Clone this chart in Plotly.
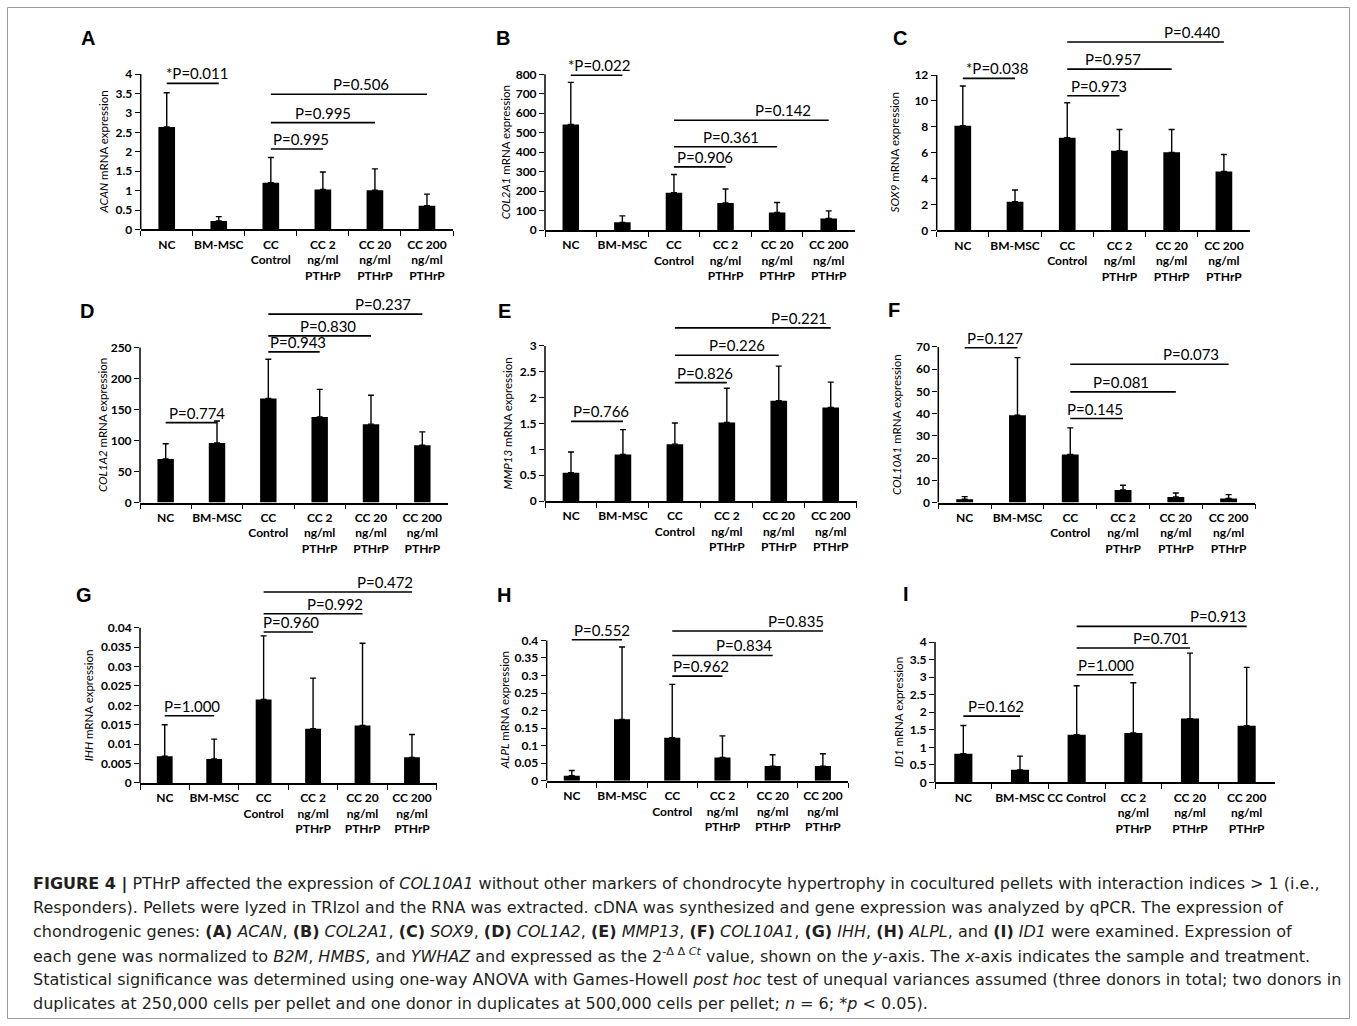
import plotly.graph_objects as go

# ---------------- DATA ----------------
CATS = ["NC", "BM-MSC", "CC<br>Control", "CC 2<br>ng/ml<br>PTHrP",
        "CC 20<br>ng/ml<br>PTHrP", "CC 200<br>ng/ml<br>PTHrP"]
CATS_I = ["NC", "BM-MSC", "CC Control", "CC 2<br>ng/ml<br>PTHrP",
          "CC 20<br>ng/ml<br>PTHrP", "CC 200<br>ng/ml<br>PTHrP"]

GENES = ["ACAN", "COL2A1", "SOX9", "COL1A2", "MMP13", "COL10A1", "IHH", "ALPL", "ID1"]
LETTERS = ["A", "B", "C", "D", "E", "F", "G", "H", "I"]

ACAN_MEAN = [2.64, 0.22, 1.20, 1.03, 1.01, 0.61]
ACAN_ERR = [0.88, 0.11, 0.65, 0.45, 0.55, 0.30]
COL2A1_MEAN = [543, 40, 192, 140, 91, 60]
COL2A1_ERR = [216, 33, 94, 71, 51, 39]
SOX9_MEAN = [8.09, 2.21, 7.16, 6.15, 6.03, 4.56]
SOX9_ERR = [3.06, 0.91, 2.70, 1.65, 1.77, 1.31]
COL1A2_MEAN = [70.5, 96, 168, 138, 126.5, 92.5]
COL1A2_ERR = [24.5, 35.5, 63, 44.5, 46.5, 21.5]
MMP13_MEAN = [0.548, 0.90, 1.10, 1.52, 1.94, 1.81]
MMP13_ERR = [0.40, 0.48, 0.41, 0.66, 0.67, 0.49]
COL10A1_MEAN = [1.5, 39.3, 21.6, 5.7, 2.5, 1.9]
COL10A1_ERR = [1.2, 25.9, 12.0, 2.1, 1.8, 1.7]
IHH_MEAN = [0.0069, 0.0062, 0.0215, 0.0140, 0.0148, 0.0066]
IHH_ERR = [0.0081, 0.0051, 0.0164, 0.0130, 0.0212, 0.0059]
ALPL_MEAN = [0.0143, 0.175, 0.1226, 0.0665, 0.0418, 0.0418]
ALPL_ERR = [0.0152, 0.206, 0.152, 0.0615, 0.0323, 0.0352]
ID1_MEAN = [0.82, 0.36, 1.36, 1.41, 1.82, 1.62]
ID1_ERR = [0.805, 0.39, 1.395, 1.43, 1.866, 1.66]

ACAN_YTICKS = [0, 0.5, 1, 1.5, 2, 2.5, 3, 3.5, 4]
ACAN_YLABELS = ["0", "0.5", "1", "1.5", "2", "2.5", "3", "3.5", "4"]
COL2A1_YTICKS = [0, 100, 200, 300, 400, 500, 600, 700, 800]
COL2A1_YLABELS = ["0", "100", "200", "300", "400", "500", "600", "700", "800"]
SOX9_YTICKS = [0, 2, 4, 6, 8, 10, 12]
SOX9_YLABELS = ["0", "2", "4", "6", "8", "10", "12"]
COL1A2_YTICKS = [0, 50, 100, 150, 200, 250]
COL1A2_YLABELS = ["0", "50", "100", "150", "200", "250"]
MMP13_YTICKS = [0, 0.5, 1, 1.5, 2, 2.5, 3]
MMP13_YLABELS = ["0", "0.5", "1", "1.5", "2", "2.5", "3"]
COL10A1_YTICKS = [0, 10, 20, 30, 40, 50, 60, 70]
COL10A1_YLABELS = ["0", "10", "20", "30", "40", "50", "60", "70"]
IHH_YTICKS = [0, 0.005, 0.01, 0.015, 0.02, 0.025, 0.03, 0.035, 0.04]
IHH_YLABELS = ["0", "0.005", "0.01", "0.015", "0.02", "0.025", "0.03", "0.035", "0.04"]
ALPL_YTICKS = [0, 0.05, 0.1, 0.15, 0.2, 0.25, 0.3, 0.35, 0.4]
ALPL_YLABELS = ["0", "0.05", "0.1", "0.15", "0.2", "0.25", "0.3", "0.35", "0.4"]
ID1_YTICKS = [0, 0.5, 1, 1.5, 2, 2.5, 3, 3.5, 4]
ID1_YLABELS = ["0", "0.5", "1", "1.5", "2", "2.5", "3", "3.5", "4"]

# P-value brackets: (label, from category, to category, level in data units)
ACAN_P = [("*P=0.011", 0, 1, 3.76), ("P=0.506", 2, 5, 3.48), ("P=0.995", 2, 4, 2.75), ("P=0.995", 2, 3, 2.07)]
COL2A1_P = [("*P=0.022", 0, 1, 795), ("P=0.142", 2, 5, 564), ("P=0.361", 2, 4, 428), ("P=0.906", 2, 3, 325)]
SOX9_P = [("*P=0.038", 0, 1, 11.74), ("P=0.440", 2, 5, 14.55), ("P=0.957", 2, 4, 12.46), ("P=0.973", 2, 3, 10.40)]
COL1A2_P = [("P=0.774", 0, 1, 129), ("P=0.237", 2, 5, 303.8), ("P=0.830", 2, 4, 268.8), ("P=0.943", 2, 3, 243)]
MMP13_P = [("P=0.766", 0, 1, 1.54), ("P=0.221", 2, 5, 3.35), ("P=0.226", 2, 4, 2.82), ("P=0.826", 2, 3, 2.29)]
COL10A1_P = [("P=0.127", 0, 1, 69.6), ("P=0.073", 2, 5, 62.2), ("P=0.081", 2, 4, 49.8), ("P=0.145", 2, 3, 37.8)]
IHH_P = [("P=1.000", 0, 1, 0.01733), ("P=0.472", 2, 5, 0.0492), ("P=0.992", 2, 4, 0.0436), ("P=0.960", 2, 3, 0.0389)]
ALPL_P = [("P=0.552", 0, 1, 0.402), ("P=0.835", 2, 5, 0.4266), ("P=0.834", 2, 4, 0.357), ("P=0.962", 2, 3, 0.2983)]
ID1_P = [("P=0.162", 0, 1, 1.89), ("P=0.913", 2, 5, 4.447), ("P=0.701", 2, 4, 3.83), ("P=1.000", 2, 3, 3.07)]

CAPTION = [
    "<b>FIGURE 4 |</b> PTHrP affected the expression of <i>COL10A1</i> without other markers of chondrocyte hypertrophy in cocultured pellets with interaction indices &gt; 1 (i.e.,",
    "Responders). Pellets were lyzed in TRIzol and the RNA was extracted. cDNA was synthesized and gene expression was analyzed by qPCR. The expression of",
    "chondrogenic genes: <b>(A)</b> <i>ACAN</i>, <b>(B)</b> <i>COL2A1</i>, <b>(C)</b> <i>SOX9</i>, <b>(D)</b> <i>COL1A2</i>, <b>(E)</b> <i>MMP13</i>, <b>(F)</b> <i>COL10A1</i>, <b>(G)</b> <i>IHH</i>, <b>(H)</b> <i>ALPL</i>, and <b>(I)</b> <i>ID1</i> were examined. Expression of",
    "each gene was normalized to <i>B2M</i>, <i>HMBS</i>, and <i>YWHAZ</i> and expressed as the 2<sup>-\u0394 \u0394 <i>Ct</i></sup> value, shown on the <i>y</i>-axis. The <i>x</i>-axis indicates the sample and treatment.",
    "Statistical significance was determined using one-way ANOVA with Games-Howell <i>post hoc</i> test of unequal variances assumed (three donors in total; two donors in",
    "duplicates at 250,000 cells per pellet and one donor in duplicates at 500,000 cells per pellet; <i>n</i> = 6; *<i>p</i> &lt; 0.05).",
]

MEANS = [ACAN_MEAN, COL2A1_MEAN, SOX9_MEAN, COL1A2_MEAN, MMP13_MEAN, COL10A1_MEAN, IHH_MEAN, ALPL_MEAN, ID1_MEAN]
ERRS = [ACAN_ERR, COL2A1_ERR, SOX9_ERR, COL1A2_ERR, MMP13_ERR, COL10A1_ERR, IHH_ERR, ALPL_ERR, ID1_ERR]
YTICKS = [ACAN_YTICKS, COL2A1_YTICKS, SOX9_YTICKS, COL1A2_YTICKS, MMP13_YTICKS, COL10A1_YTICKS, IHH_YTICKS, ALPL_YTICKS, ID1_YTICKS]
YLABELS = [ACAN_YLABELS, COL2A1_YLABELS, SOX9_YLABELS, COL1A2_YLABELS, MMP13_YLABELS, COL10A1_YLABELS, IHH_YLABELS, ALPL_YLABELS, ID1_YLABELS]
PVALS = [ACAN_P, COL2A1_P, SOX9_P, COL1A2_P, MMP13_P, COL10A1_P, IHH_P, ALPL_P, ID1_P]
CATEGORIES = [CATS] * 8 + [CATS_I]

# ---------------- LAYOUT GEOMETRY (pixels) ----------------
W, H = 1357, 1026
Y_SCALE = 1.0075  # small vertical correction


def py(v):
    return 1 - min(v * Y_SCALE, H - 0.5) / H


# y-axis x, x-axis end, zero line y, top tick y, plot-area top y, y-title gap, letter x, letter y
GEOM = [
    (140.7, 453.0, 229.3, 74.0, 22, 37, 88, 38),
    (545.0, 854.5, 230.0, 74.3, 22, 40, 503, 38),
    (936.7, 1250.0, 230.3, 75.0, 22, 42, 900, 38),
    (140.0, 448.0, 502.3, 347.3, 298, 38, 87, 311),
    (545.0, 856.7, 500.7, 345.7, 298, 38, 504, 311),
    (938.3, 1255.0, 502.3, 346.7, 298, 42, 894, 310),
    (140.0, 436.7, 782.5, 627.3, 580, 52, 84, 595),
    (546.7, 848.0, 780.3, 640.0, 580, 42, 504, 595),
    (935.0, 1275.0, 782.0, 641.7, 580, 37, 906, 594),
]
# horizontal offset (in category units) of each P-value label from its bracket centre
PTEXT_DX = [
    [0.08, 0.23, 0.0, 0.08],
    [0.05, 0.62, 0.1, 0.1],
    [0.15, 0.88, -0.12, 0.1],
    [0.12, 0.74, 0.16, 0.08],
    [0.08, 0.89, 0.2, 0.08],
    [0.08, 0.78, -0.04, -0.04],
    [0.06, 0.95, 0.45, 0.06],
    [0.1, 0.96, 0.42, 0.08],
    [0.07, 0.99, 0.48, 0.02],
]
CAP_Y = [883, 907, 931, 955, 979, 1003]

TICK_FONT = dict(family="Lato", size=12, color="black", weight="bold")
P_FONT = dict(family="Lato", size=15, color="black")
TITLE_FONT = dict(family="Lato", size=11.5, color="black")

fig = go.Figure()
layout = dict(
    width=W, height=H, margin=dict(l=0, r=0, t=0, b=0, pad=0),
    paper_bgcolor="white", plot_bgcolor="white", showlegend=False,
    bargap=0.68,
)
shapes = []
annotations = []

for n in range(9):
    sid = "" if n == 0 else str(n + 1)
    xname, yname = "x" + sid, "y" + sid
    ax_x, x_end, zero_py, toptick_py, top_py, tgap, lx, ly = GEOM[n]
    ticks = YTICKS[n]
    top_val = ticks[-1]
    rmax = top_val * (zero_py - top_py) / (zero_py - toptick_py)

    fig.add_trace(go.Bar(
        x=CATEGORIES[n], y=MEANS[n], xaxis=xname, yaxis=yname,
        marker=dict(color="black", line=dict(width=0)),
        error_y=dict(type="data", array=ERRS[n], arrayminus=[0] * len(ERRS[n]),
                     symmetric=False, color="black", thickness=1.4, width=3),
        hoverinfo="skip",
    ))

    layout["xaxis" + sid] = dict(
        domain=[ax_x / W, x_end / W], anchor=yname, type="category",
        categoryorder="array", categoryarray=CATEGORIES[n],
        showline=True, linecolor="black", linewidth=1.5,
        ticks="outside", tickson="boundaries", ticklen=5, tickwidth=1.4, tickcolor="black",
        tickfont=TICK_FONT, showgrid=False, zeroline=False, fixedrange=True,
        range=[-0.5, len(CATEGORIES[n]) - 0.5], tickangle=0, ticklabelstandoff=3,
    )
    layout["yaxis" + sid] = dict(
        domain=[py(zero_py), py(top_py)], anchor=xname,
        range=[0, rmax], showline=False, ticks="outside", ticklen=5, tickwidth=1.4,
        tickcolor="black", tickvals=ticks, ticktext=YLABELS[n], tickfont=TICK_FONT,
        showgrid=False, zeroline=False, fixedrange=True,
    )

    dref = xname + " domain"
    # y-axis line up to the top tick
    shapes.append(dict(type="line", xref=dref, yref=yname, x0=0, x1=0, y0=0, y1=top_val,
                       line=dict(color="black", width=1.5)))

    # P-value brackets
    for k, (label, i0, i1, lvl) in enumerate(PVALS[n]):
        shapes.append(dict(type="line", xref=xname, yref=yname, x0=i0, x1=i1, y0=lvl, y1=lvl,
                           line=dict(color="black", width=1.6)))
        annotations.append(dict(
            x=(i0 + i1) / 2 + PTEXT_DX[n][k], y=lvl, xref=xname, yref=yname,
            text=label, showarrow=False, xanchor="center", yanchor="bottom",
            font=P_FONT, yshift=-1,
        ))

    # y-axis title
    annotations.append(dict(
        x=0, y=top_val / 2, xref=dref, yref=yname, xshift=-tgap,
        text="<i>" + GENES[n] + "</i> mRNA expression", textangle=-90,
        showarrow=False, xanchor="center", yanchor="middle", font=TITLE_FONT,
    ))

    # panel letter
    annotations.append(dict(
        x=lx / W, y=py(ly), xref="paper", yref="paper", text="<b>" + LETTERS[n] + "</b>",
        showarrow=False, xanchor="center", yanchor="middle",
        font=dict(family="Liberation Sans", size=20, color="black"),
    ))

# frame
shapes.append(dict(type="rect", xref="paper", yref="paper", x0=7.5 / W, x1=1349.5 / W,
                   y0=py(1019.5), y1=py(7.5), line=dict(color="#9a9a9a", width=1)))

# caption
for k, line in enumerate(CAPTION):
    annotations.append(dict(
        x=31 / W, y=py(CAP_Y[k]), xref="paper", yref="paper", text=line,
        showarrow=False, xanchor="left", yanchor="middle", align="left",
        font=dict(family="DejaVu Sans", size=16, color="#231f20"),
    ))

layout["shapes"] = shapes
layout["annotations"] = annotations
fig.update_layout(**layout)
fig.write_html(
    "out.html",
    config={"displayModeBar": False},
    post_script="document.body.style.margin='0px';document.body.style.overflow='hidden';",
)
